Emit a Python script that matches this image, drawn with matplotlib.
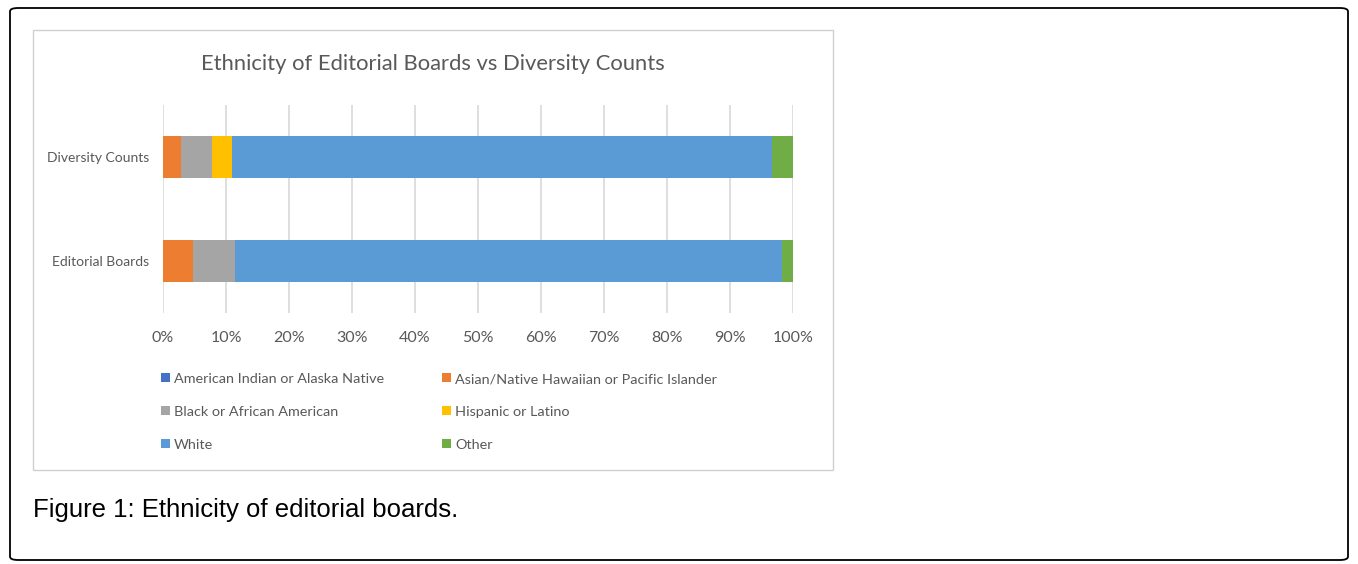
import matplotlib.pyplot as plt
from matplotlib.patches import FancyBboxPatch, Rectangle

categories = ["Editorial Boards", "Diversity Counts"]
groups = ["American Indian or Alaska Native", "Asian/Native Hawaiian or Pacific Islander",
          "Black or African American", "Hispanic or Latino", "White", "Other"]
# percentage per group, [Editorial Boards, Diversity Counts]
american_indian = [0.0, 0.0]
asian = [4.8, 2.9]
black = [6.7, 4.9]
hispanic = [0.0, 3.1]
white = [86.8, 85.7]
other = [1.7, 3.4]
colors = ["#4472C4", "#ED7D31", "#A5A5A5", "#FFC000", "#5B9BD5", "#70AD47"]
xticks = list(range(0, 101, 10))

W, H = 1358, 564
fig = plt.figure(figsize=(W / 100, H / 100), dpi=100)

def box(x0, y0, x1, y1):
    # pixel box (top-left origin) -> figure fraction rect
    return [x0 / W, 1 - y1 / H, (x1 - x0) / W, (y1 - y0) / H]

# outer frame
fig.patches.append(FancyBboxPatch((10 / W, 1 - 560 / H), 1338 / W, 552 / H,
                                  boxstyle="round,pad=0,rounding_size=0.006",
                                  transform=fig.transFigure, fill=False,
                                  edgecolor="black", linewidth=1.3))
# chart area border
fig.patches.append(Rectangle((33 / W, 1 - 470 / H), 800 / W, 440 / H,
                             transform=fig.transFigure, fill=False,
                             edgecolor="#D0D0D0", linewidth=1))

ax = fig.add_axes(box(163, 105, 793, 313))
series = [american_indian, asian, black, hispanic, white, other]
left = [0.0, 0.0]
handles = []
for name, vals, c in zip(groups, series, colors):
    h = ax.barh(range(len(categories)), vals, left=left, height=0.4, color=c, label=name, zorder=3)
    handles.append(h)
    left = [l + v for l, v in zip(left, vals)]

ax.set_xlim(0, 100)
ax.set_ylim(-0.5, 1.5)
ax.set_xticks(xticks)
ax.set_xticklabels([f"{t}%" for t in xticks], fontsize=11.5, color="#595959", family="Lato")
ax.set_yticks(range(len(categories)))
ax.set_yticklabels(categories, fontsize=10, color="#595959", family="Lato")
ax.grid(axis="x", color="#D9D9D9", linewidth=1.2, zorder=0)
for s in ax.spines.values():
    s.set_visible(False)
ax.tick_params(length=0)
ax.tick_params(axis="x", pad=13)
ax.tick_params(axis="y", pad=10)

fig.text(433 / W, 1 - 64 / H, "Ethnicity of Editorial Boards vs Diversity Counts",
         ha="center", va="center", fontsize=15.8, color="#595959", family="Lato")

order = [0, 2, 4, 1, 3, 5]
fig.legend([handles[i] for i in order], [groups[i] for i in order], ncol=2,
           loc="upper left", bbox_to_anchor=(161 / W, 1 - 373 / H), frameon=False,
           prop={"family": "Lato", "size": 10.4}, labelcolor="#595959",
           handlelength=0.6, handleheight=0.6, handletextpad=0.3,
           labelspacing=1.45, columnspacing=4.0, borderpad=0, borderaxespad=0)

fig.text(33 / W, 1 - 510 / H, "Figure 1: Ethnicity of editorial boards.",
         ha="left", va="center", fontsize=18.5, color="black", family="Liberation Sans")

fig.savefig("out.png", dpi=100)
